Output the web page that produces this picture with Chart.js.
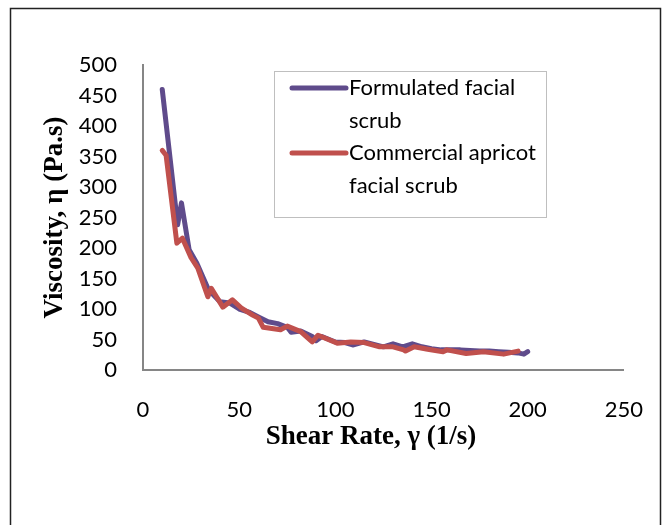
<!DOCTYPE html>
<html>
<head>
<meta charset="utf-8">
<script src="https://cdn.jsdelivr.net/npm/chart.js@4.4.0/dist/chart.umd.min.js"></script>
<style>
  html, body { margin: 0; padding: 0; background: #fff; }
  #wrap { width: 670px; height: 525px; position: relative; }
</style>
</head>
<body>
<div id="wrap"><canvas id="chart" width="670" height="525"></canvas></div>
<script>
// Shear rate (1/s) and viscosity (Pa.s)
const formulatedX = [10, 18, 20, 24, 28, 34, 40, 45, 50, 55, 60, 65, 70, 75, 77, 82, 88, 90, 93, 100,
    105, 109, 115, 120, 125, 130, 135, 140, 145, 150, 155, 160, 165, 170, 175, 180, 185, 190, 195, 198, 200];
const formulatedY = [460, 238, 274, 197, 175, 132, 112, 110, 100, 95, 87, 79, 76, 70, 62, 64, 55, 48, 55, 46,
    45, 41, 46, 42, 38, 43, 38, 43, 38, 35, 33, 33, 33, 32, 31, 31, 30, 29, 28, 26, 30];

const commercialX = [10, 12, 17.6, 20.5, 25, 28.5, 33.7, 35.5, 41.5, 46.5, 51, 57, 60, 62.5, 71.5, 75, 82, 88, 91,
    101, 108, 115, 123, 130, 135.5, 136.5, 141, 148, 156, 158, 168, 177, 187.5, 195];
const commercialY = [360, 352, 208, 216, 184, 167, 120, 134, 103, 115, 102, 90, 85, 70, 66, 72, 63, 46, 57,
    44, 46, 45, 38, 38, 33, 31, 38, 34, 30, 33, 27, 30, 26, 31];

const seriesNames = [['Formulated facial', 'scrub'], ['Commercial apricot', 'facial scrub']];
const seriesColors = ['#5f4b8b', '#c0504d'];

const xTicks = [0, 50, 100, 150, 200, 250];
const yTicks = [0, 50, 100, 150, 200, 250, 300, 350, 400, 450, 500];
const xTitle = 'Shear Rate, γ (1/s)';

function toPoints(xs, ys) {
    return xs.map((x, i) => ({ x: x, y: ys[i] }));
}

// frame around the whole figure
const framePlugin = {
    id: 'frame',
    beforeDraw(chart) {
        const ctx = chart.ctx;
        ctx.save();
        ctx.fillStyle = '#fff';
        ctx.fillRect(0, 0, chart.width, chart.height);
        ctx.strokeStyle = '#222';
        ctx.lineWidth = 1.5;
        ctx.strokeRect(10.5, 8.5, 650, 530);
        ctx.restore();
    }
};

// legend box inside the plot, with wrapped labels, plus the x title
const boxLegend = {
    id: 'boxLegend',
    afterDraw(chart) {
        const ctx = chart.ctx;
        ctx.save();
        ctx.strokeStyle = '#bfbfbf';
        ctx.lineWidth = 1;
        ctx.strokeRect(274.5, 71.5, 272, 146);
        ctx.font = '22px Lato';
        ctx.textBaseline = 'middle';
        ctx.fillStyle = '#000';
        const rows = [88, 153];
        seriesNames.forEach((lines, i) => {
            const y = rows[i];
            ctx.strokeStyle = seriesColors[i];
            ctx.lineWidth = 5;
            ctx.lineCap = 'round';
            ctx.beginPath();
            ctx.moveTo(292, y);
            ctx.lineTo(346, y);
            ctx.stroke();
            lines.forEach((t, j) => ctx.fillText(t, 349, y + j * 32.5));
        });

        ctx.font = 'bold 27px "Liberation Serif"';
        ctx.textAlign = 'center';
        ctx.fillText(xTitle, 371, 437);
        ctx.restore();
    }
};

new Chart(document.getElementById('chart'), {
    type: 'scatter',
    data: {
        datasets: [
            {
                label: seriesNames[0].join(' '),
                data: toPoints(formulatedX, formulatedY),
                borderColor: seriesColors[0],
                backgroundColor: seriesColors[0],
                borderWidth: 5,
                borderJoinStyle: 'round',
                borderCapStyle: 'round',
                showLine: true,
                pointRadius: 0,
                tension: 0,
                order: 1
            },
            {
                label: seriesNames[1].join(' '),
                data: toPoints(commercialX, commercialY),
                borderColor: seriesColors[1],
                backgroundColor: seriesColors[1],
                borderWidth: 5,
                borderJoinStyle: 'round',
                borderCapStyle: 'round',
                showLine: true,
                pointRadius: 0,
                tension: 0,
                order: 0
            }
        ]
    },
    options: {
        responsive: false,
        animation: false,
        layout: { padding: { left: 10, right: 38, top: 65, bottom: 0 } },
        plugins: { legend: { display: false }, tooltip: { enabled: false } },
        scales: {
            x: {
                type: 'linear',
                min: 0,
                max: 250,
                afterBuildTicks: (s) => { s.ticks = xTicks.map(v => ({ value: v })); },
                afterFit: (s) => { s.height = 155; },
                grid: { display: false, drawTicks: false },
                border: { color: '#868686', width: 2 },
                ticks: { color: '#000', font: { family: 'Lato', size: 22 }, padding: 27, maxRotation: 0 }
            },
            y: {
                type: 'linear',
                min: 0,
                max: 500,
                afterBuildTicks: (s) => { s.ticks = yTicks.map(v => ({ value: v })); },
                afterFit: (s) => { s.width = 133; },
                grid: { display: false, drawTicks: false },
                border: { color: '#868686', width: 2 },
                ticks: { color: '#000', font: { family: 'Lato', size: 22 }, padding: 26 },
                title: {
                    display: true,
                    text: 'Viscosity, η (Pa.s)',
                    color: '#000',
                    font: { family: 'Liberation Serif', size: 27, weight: 'bold' },
                    padding: { top: 29, bottom: 0 }
                }
            }
        }
    },
    plugins: [framePlugin, boxLegend]
});
</script>
</body>
</html>
